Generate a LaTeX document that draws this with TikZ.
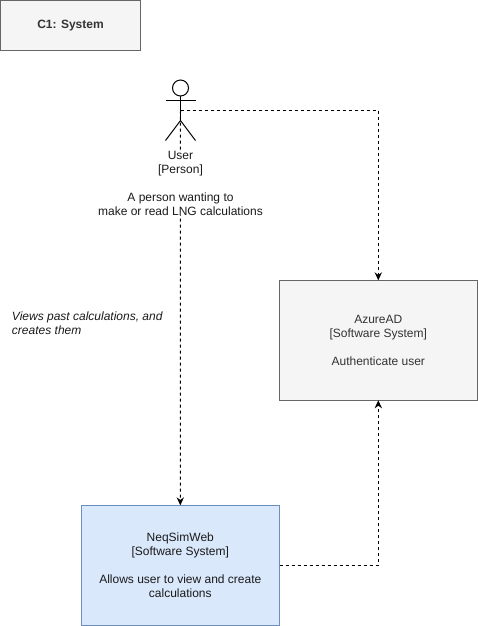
\documentclass[tikz,border=0pt]{standalone}
\usepackage{fontspec}
\setmainfont{Liberation Sans}
\usetikzlibrary{arrows.meta}

\begin{document}
\begin{tikzpicture}[x=0.75pt, y=-0.75pt, outer sep=0pt, font=\fontsize{9}{10.5}\selectfont]

\tikzset{
  sysbox/.style={draw, rectangle, line width=0.75pt, align=center, minimum height=90pt, minimum width=148.9pt},
  greybox/.style={sysbox, fill=boxgrey, draw=edgegrey, text=textgrey},
  bluebox/.style={sysbox, fill=boxblue, draw=edgeblue, text=textdark},
  titlebox/.style={greybox, minimum height=37.5pt, minimum width=105pt, font=\fontsize{9}{10.5}\selectfont\bfseries},
  link/.style={draw=black, line width=0.75pt, dash pattern=on 2.25pt off 2.25pt, -{Stealth[length=6pt,width=5.5pt]}},
  stick/.style={draw=black, line width=0.75pt},
  plain/.style={align=center, inner sep=0pt, text=textdark}
}
\definecolor{boxgrey}{HTML}{F5F5F5}
\definecolor{edgegrey}{HTML}{666666}
\definecolor{textgrey}{HTML}{333333}
\definecolor{boxblue}{HTML}{DAE8FC}
\definecolor{edgeblue}{HTML}{6C8EBF}
\definecolor{textdark}{HTML}{1A1A1A}

\useasboundingbox (0,0) rectangle (478,626);

\node[titlebox] (title) at (70.5,25.5) {C1: System};

\node[greybox] (azure) at (378.3,340.3) {AzureAD\\ {[Software System]}\\ \\ Authenticate user};
\node[bluebox] (neqsim) at (180.3,565.3) {NeqSimWeb\\ {[Software System]}\\ \\ Allows user to view and create\\ calculations};

\coordinate (user) at (180.5,110.5);

% connectors go first so the labels sit on top
\draw[link] (user) -| (azure.north);
\draw[link] (user) -- (neqsim.north);
\draw[link] (neqsim.east) -| (azure.south);

% stick figure
\node[stick, circle, minimum size=12pt, inner sep=0pt] (head) at (180.5,88) {};
\coordinate (hip) at (180.5,120.5);
\coordinate (lefthand) at (165.5,100.5);
\coordinate (righthand) at (195.5,100.5);
\coordinate (leftfoot) at (165.5,140.5);
\coordinate (rightfoot) at (195.5,140.5);
\draw[stick] (head.south) -- (hip);
\draw[stick] (lefthand) -- (righthand);
\draw[stick] (leftfoot) -- (hip) -- (rightfoot);

\node[plain, fill=white] (userlabel) at (180.5,183) {User\\ {[Person]}\\ \\ A person wanting to\\ make or read LNG calculations};
\node[plain, align=left, anchor=west, font=\fontsize{9}{10.5}\selectfont\itshape] (viewslabel) at (12,323) {Views past calculations, and\\ creates them};

\end{tikzpicture}
\end{document}
